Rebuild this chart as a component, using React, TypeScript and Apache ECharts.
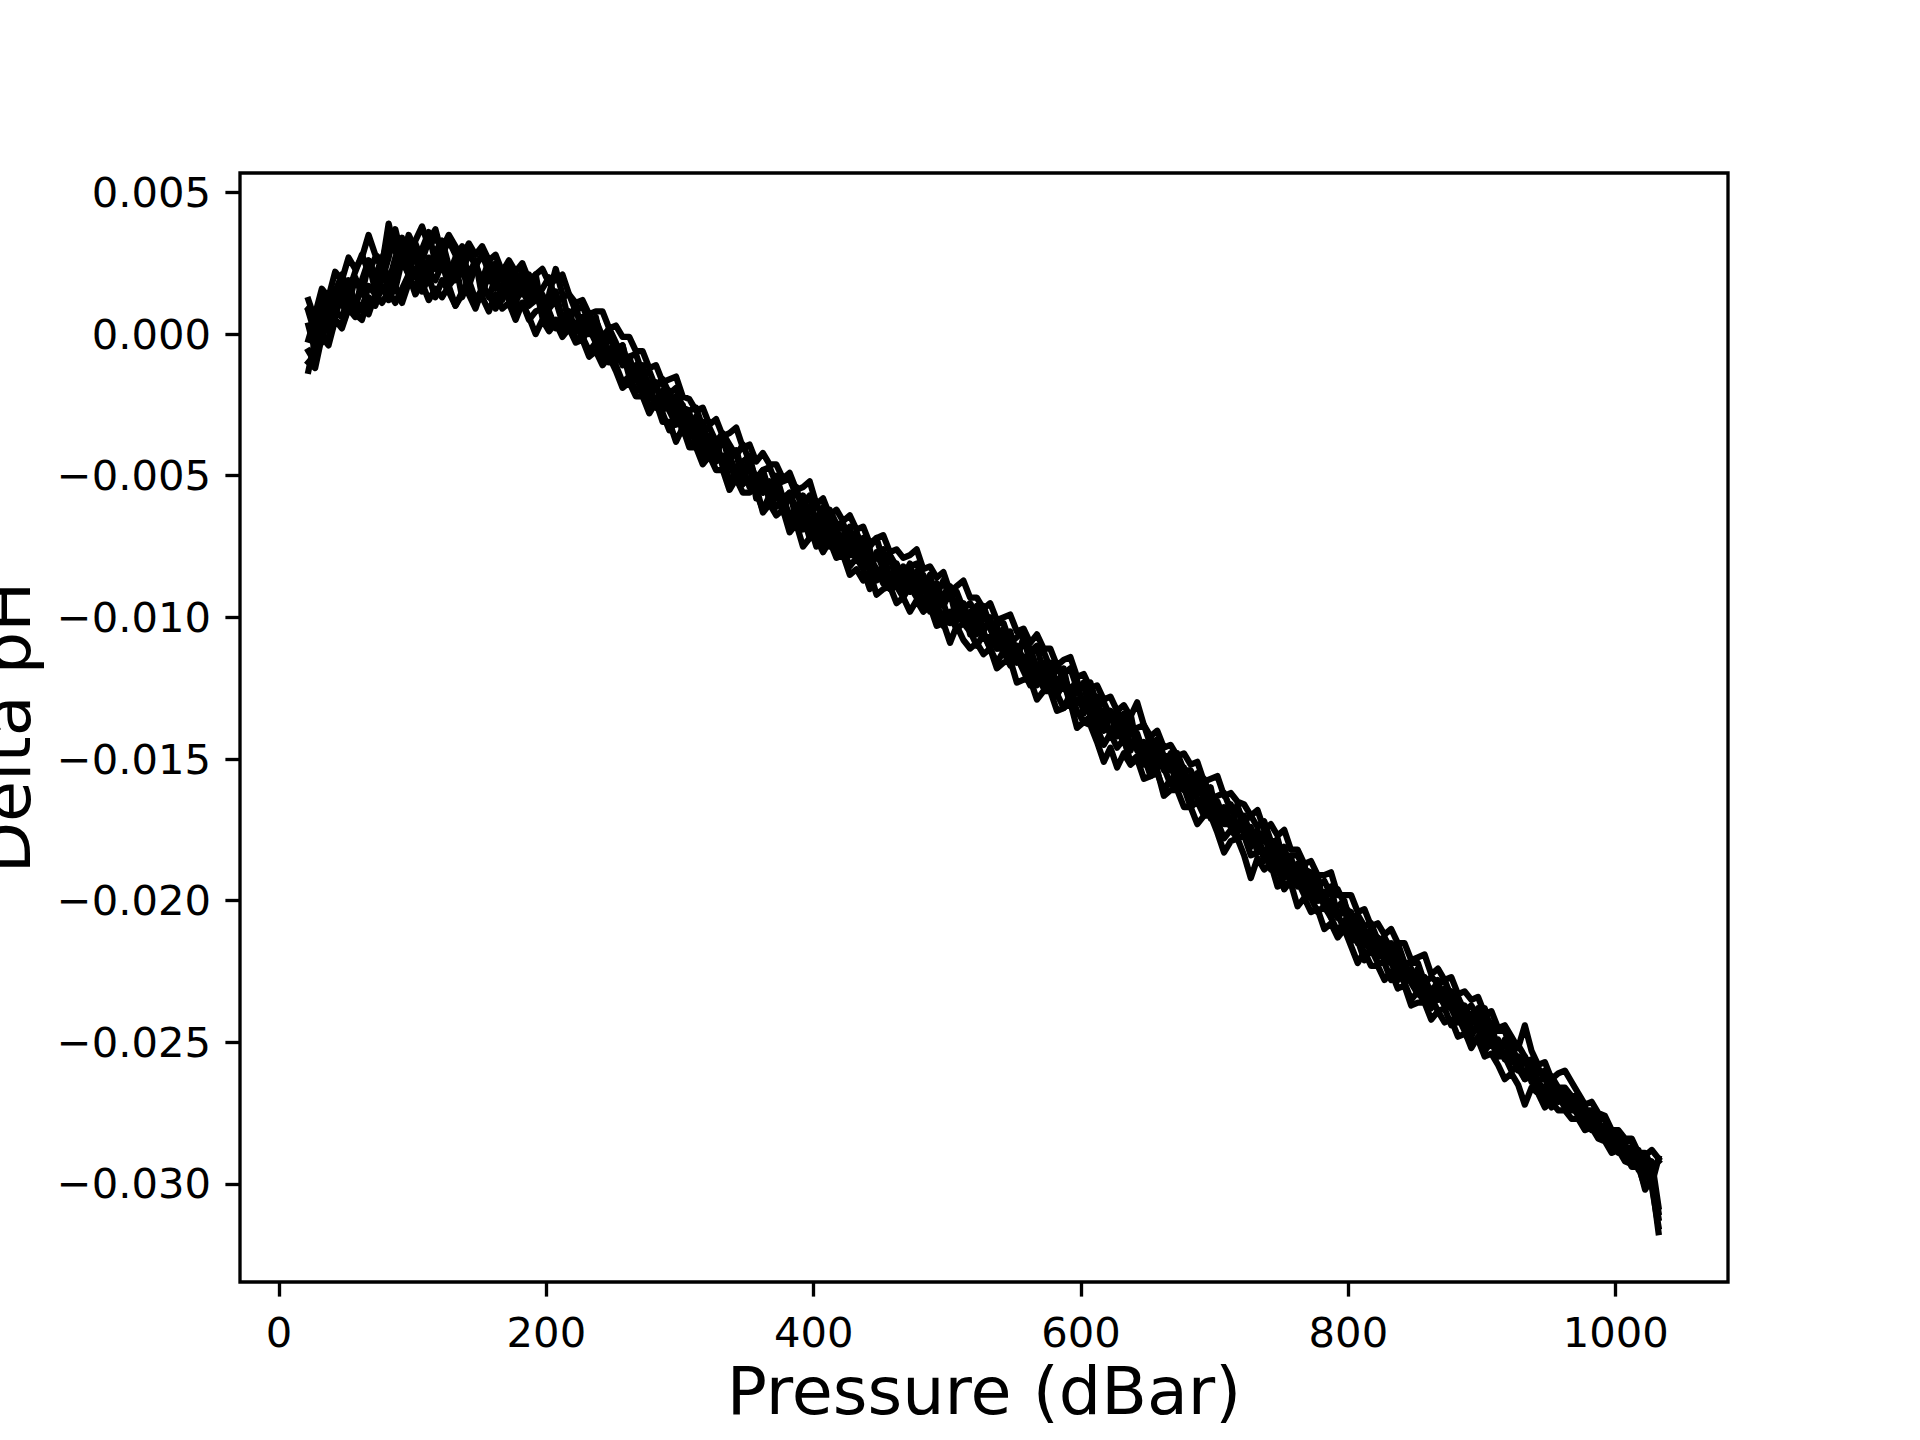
import React, { useEffect, useRef } from "react";
import * as echarts from "echarts";

// Pressure grid (dBar)
const pressure = [
  22, 27, 32, 37, 42, 47, 52, 57, 62, 67,
  72, 77, 82, 87, 92, 97, 102, 107, 112, 117,
  122, 127, 132, 137, 142, 147, 152, 157, 162, 167,
  172, 177, 182, 187, 192, 197, 202, 207, 212, 217,
  222, 227, 232, 237, 242, 247, 252, 257, 262, 267,
  272, 277, 282, 287, 292, 297, 302, 307, 312, 317,
  322, 327, 332, 337, 342, 347, 352, 357, 362, 367,
  372, 377, 382, 387, 392, 397, 402, 407, 412, 417,
  422, 427, 432, 437, 442, 447, 452, 457, 462, 467,
  472, 477, 482, 487, 492, 497, 502, 507, 512, 517,
  522, 527, 532, 537, 542, 547, 552, 557, 562, 567,
  572, 577, 582, 587, 592, 597, 602, 607, 612, 617,
  622, 627, 632, 637, 642, 647, 652, 657, 662, 667,
  672, 677, 682, 687, 692, 697, 702, 707, 712, 717,
  722, 727, 732, 737, 742, 747, 752, 757, 762, 767,
  772, 777, 782, 787, 792, 797, 802, 807, 812, 817,
  822, 827, 832, 837, 842, 847, 852, 857, 862, 867,
  872, 877, 882, 887, 892, 897, 902, 907, 912, 917,
  922, 927, 932, 937, 942, 947, 952, 957, 962, 967,
  972, 977, 982, 987, 992, 997, 1002, 1007, 1012, 1017,
  1022, 1027, 1032,
];

// Delta pH profiles
const profileA = [
  -13e-4, -2e-4, -3e-4, 8e-4, 6e-4, 15e-4, 10e-4, 20e-4, 14e-4, 25e-4,
  20e-4, 27e-4, 18e-4, 27e-4, 33e-4, 27e-4, 20e-4, 30e-4, 36e-4, 25e-4,
  31e-4, 21e-4, 27e-4, 31e-4, 17e-4, 24e-4, 19e-4, 26e-4, 21e-4, 12e-4,
  20e-4, 14e-4, 20e-4, 14e-4, 21e-4, 8e-4, 12e-4, 15e-4, 5e-4, 8e-4,
  1e-4, 6e-4, 0, 5e-4, -3e-4, -10e-4, -4e-4, -11e-4, -8e-4, -16e-4,
  -13e-4, -23e-4, -18e-4, -16e-4, -27e-4, -25e-4, -35e-4, -28e-4, -36e-4, -31e-4,
  -42e-4, -37e-4, -47e-4, -42e-4, -41e-4, -49e-4, -45e-4, -58e-4, -50e-4, -55e-4,
  -50e-4, -58e-4, -56e-4, -65e-4, -60e-4, -57e-4, -68e-4, -63e-4, -75e-4, -69e-4,
  -68e-4, -77e-4, -70e-4, -79e-4, -76e-4, -87e-4, -81e-4, -78e-4, -88e-4, -82e-4,
  -91e-4, -84e-4, -90e-4, -85e-4, -97e-4, -92e-4, -89e-4, -99e-4, -95e-4, -106e-4,
  -99e-4, -105e-4, -100e-4, -111e-4, -107e-4, -106e-4, -115e-4, -107e-4, -116e-4, -124e-4,
  -116e-4, -124e-4, -117e-4, -122e-4, -131e-4, -124e-4, -131e-4, -125e-4, -137e-4, -133e-4,
  -142e-4, -135e-4, -142e-4, -136e-4, -147e-4, -144e-4, -155e-4, -146e-4, -153e-4, -148e-4,
  -157e-4, -154e-4, -165e-4, -159e-4, -164e-4, -160e-4, -171e-4, -168e-4, -174e-4, -166e-4,
  -177e-4, -174e-4, -183e-4, -176e-4, -184e-4, -178e-4, -187e-4, -194e-4, -187e-4, -194e-4,
  -191e-4, -200e-4, -197e-4, -206e-4, -202e-4, -200e-4, -210e-4, -207e-4, -216e-4, -212e-4,
  -219e-4, -213e-4, -221e-4, -228e-4, -222e-4, -228e-4, -224e-4, -234e-4, -231e-4, -235e-4,
  -231e-4, -238e-4, -234e-4, -245e-4, -240e-4, -245e-4, -241e-4, -251e-4, -249e-4, -256e-4,
  -252e-4, -259e-4, -257e-4, -256e-4, -265e-4, -271e-4, -264e-4, -268e-4, -267e-4, -273e-4,
  -270e-4, -276e-4, -275e-4, -282e-4, -280e-4, -285e-4, -282e-4, -288e-4, -287e-4, -295e-4,
  -291e-4, -301e-4, -315e-4,
];
const profileB = [
  12e-4, 5e-4, 14e-4, 9e-4, 15e-4, 21e-4, 15e-4, 22e-4, 28e-4, 22e-4,
  27e-4, 24e-4, 39e-4, 29e-4, 26e-4, 35e-4, 30e-4, 26e-4, 33e-4, 37e-4,
  28e-4, 33e-4, 28e-4, 21e-4, 29e-4, 24e-4, 28e-4, 22e-4, 25e-4, 19e-4,
  23e-4, 18e-4, 22e-4, 17e-4, 12e-4, 16e-4, 20e-4, 11e-4, 13e-4, 14e-4,
  8e-4, 10e-4, 4e-4, 5e-4, -1e-4, 2e-4, -3e-4, -9e-4, -8e-4, -7e-4,
  -14e-4, -13e-4, -19e-4, -16e-4, -21e-4, -19e-4, -26e-4, -27e-4, -26e-4, -33e-4,
  -33e-4, -38e-4, -35e-4, -39e-4, -43e-4, -39e-4, -45e-4, -51e-4, -48e-4, -47e-4,
  -53e-4, -52e-4, -51e-4, -57e-4, -58e-4, -63e-4, -60e-4, -65e-4, -62e-4, -67e-4,
  -67e-4, -72e-4, -70e-4, -76e-4, -75e-4, -72e-4, -80e-4, -78e-4, -82e-4, -85e-4,
  -82e-4, -81e-4, -87e-4, -86e-4, -92e-4, -87e-4, -93e-4, -91e-4, -97e-4, -95e-4,
  -99e-4, -96e-4, -103e-4, -102e-4, -102e-4, -109e-4, -107e-4, -105e-4, -112e-4, -112e-4,
  -112e-4, -118e-4, -117e-4, -120e-4, -118e-4, -125e-4, -125e-4, -123e-4, -131e-4, -130e-4,
  -135e-4, -133e-4, -137e-4, -141e-4, -139e-4, -138e-4, -145e-4, -143e-4, -149e-4, -149e-4,
  -148e-4, -154e-4, -154e-4, -159e-4, -157e-4, -164e-4, -163e-4, -162e-4, -168e-4, -167e-4,
  -172e-4, -170e-4, -174e-4, -172e-4, -179e-4, -179e-4, -185e-4, -184e-4, -184e-4, -189e-4,
  -190e-4, -195e-4, -193e-4, -198e-4, -196e-4, -201e-4, -206e-4, -205e-4, -209e-4, -208e-4,
  -214e-4, -213e-4, -217e-4, -215e-4, -222e-4, -222e-4, -222e-4, -229e-4, -227e-4, -229e-4,
  -228e-4, -234e-4, -234e-4, -239e-4, -237e-4, -241e-4, -238e-4, -246e-4, -246e-4, -246e-4,
  -252e-4, -251e-4, -255e-4, -259e-4, -259e-4, -263e-4, -262e-4, -266e-4, -266e-4, -269e-4,
  -269e-4, -274e-4, -274e-4, -277e-4, -277e-4, -282e-4, -282e-4, -285e-4, -285e-4, -290e-4,
  -290e-4, -288e-4, -291e-4,
];
const profileC = [
  -6e-4, -10e-4, 0, -2e-4, 5e-4, 3e-4, 9e-4, 7e-4, 5e-4, 13e-4,
  10e-4, 17e-4, 12e-4, 17e-4, 11e-4, 18e-4, 22e-4, 15e-4, 20e-4, 13e-4,
  19e-4, 15e-4, 10e-4, 15e-4, 19e-4, 12e-4, 16e-4, 14e-4, 9e-4, 13e-4,
  15e-4, 9e-4, 11e-4, 5e-4, 8e-4, 9e-4, 3e-4, 5e-4, 2e-4, 4e-4,
  -2e-4, -1e-4, -6e-4, -3e-4, -8e-4, -6e-4, -11e-4, -17e-4, -15e-4, -20e-4,
  -20e-4, -26e-4, -23e-4, -28e-4, -34e-4, -31e-4, -30e-4, -39e-4, -38e-4, -44e-4,
  -41e-4, -45e-4, -43e-4, -52e-4, -50e-4, -53e-4, -51e-4, -56e-4, -62e-4, -57e-4,
  -61e-4, -59e-4, -67e-4, -64e-4, -69e-4, -67e-4, -75e-4, -72e-4, -71e-4, -77e-4,
  -76e-4, -82e-4, -79e-4, -83e-4, -90e-4, -85e-4, -84e-4, -90e-4, -89e-4, -93e-4,
  -89e-4, -93e-4, -97e-4, -93e-4, -98e-4, -103e-4, -100e-4, -104e-4, -102e-4, -105e-4,
  -110e-4, -106e-4, -111e-4, -116e-4, -112e-4, -117e-4, -114e-4, -119e-4, -124e-4, -120e-4,
  -125e-4, -123e-4, -127e-4, -132e-4, -127e-4, -133e-4, -137e-4, -135e-4, -139e-4, -145e-4,
  -141e-4, -146e-4, -143e-4, -151e-4, -149e-4, -149e-4, -156e-4, -155e-4, -161e-4, -157e-4,
  -161e-4, -160e-4, -167e-4, -165e-4, -170e-4, -167e-4, -172e-4, -178e-4, -175e-4, -178e-4,
  -177e-4, -184e-4, -183e-4, -182e-4, -189e-4, -188e-4, -196e-4, -193e-4, -193e-4, -198e-4,
  -199e-4, -204e-4, -202e-4, -206e-4, -211e-4, -207e-4, -214e-4, -214e-4, -221e-4, -217e-4,
  -222e-4, -222e-4, -228e-4, -225e-4, -229e-4, -235e-4, -232e-4, -236e-4, -234e-4, -239e-4,
  -238e-4, -244e-4, -241e-4, -246e-4, -252e-4, -248e-4, -253e-4, -250e-4, -255e-4, -255e-4,
  -260e-4, -259e-4, -263e-4, -262e-4, -267e-4, -268e-4, -273e-4, -269e-4, -273e-4, -272e-4,
  -276e-4, -280e-4, -279e-4, -283e-4, -282e-4, -286e-4, -289e-4, -289e-4, -294e-4, -294e-4,
  -301e-4, -299e-4, -317e-4,
];
const profileD = [
  8e-4, 0, 10e-4, 1e-4, 12e-4, 10e-4, 19e-4, 10e-4, 17e-4, 26e-4,
  15e-4, 24e-4, 15e-4, 23e-4, 31e-4, 22e-4, 29e-4, 16e-4, 27e-4, 23e-4,
  30e-4, 19e-4, 25e-4, 13e-4, 19e-4, 25e-4, 18e-4, 13e-4, 20e-4, 23e-4,
  16e-4, 11e-4, 17e-4, 11e-4, 17e-4, 6e-4, 9e-4, 12e-4, 4e-4, 7e-4,
  9e-4, 1e-4, 7e-4, -3e-4, 0, -9e-4, -5e-4, -4e-4, -14e-4, -11e-4,
  -20e-4, -17e-4, -26e-4, -20e-4, -20e-4, -29e-4, -25e-4, -34e-4, -29e-4, -41e-4,
  -36e-4, -42e-4, -37e-4, -45e-4, -52e-4, -45e-4, -43e-4, -53e-4, -50e-4, -59e-4,
  -52e-4, -61e-4, -58e-4, -54e-4, -64e-4, -72e-4, -64e-4, -70e-4, -65e-4, -75e-4,
  -71e-4, -68e-4, -79e-4, -75e-4, -84e-4, -77e-4, -83e-4, -89e-4, -81e-4, -86e-4,
  -81e-4, -90e-4, -87e-4, -98e-4, -90e-4, -96e-4, -91e-4, -101e-4, -98e-4, -103e-4,
  -96e-4, -105e-4, -111e-4, -103e-4, -111e-4, -105e-4, -113e-4, -118e-4, -111e-4, -118e-4,
  -124e-4, -117e-4, -124e-4, -118e-4, -129e-4, -126e-4, -123e-4, -135e-4, -132e-4, -140e-4,
  -134e-4, -141e-4, -134e-4, -146e-4, -143e-4, -152e-4, -146e-4, -144e-4, -154e-4, -151e-4,
  -160e-4, -153e-4, -161e-4, -155e-4, -166e-4, -164e-4, -174e-4, -167e-4, -172e-4, -176e-4,
  -170e-4, -177e-4, -175e-4, -186e-4, -180e-4, -187e-4, -181e-4, -190e-4, -195e-4, -189e-4,
  -197e-4, -191e-4, -203e-4, -200e-4, -206e-4, -202e-4, -214e-4, -208e-4, -213e-4, -210e-4,
  -220e-4, -217e-4, -222e-4, -217e-4, -229e-4, -224e-4, -231e-4, -227e-4, -238e-4, -231e-4,
  -236e-4, -232e-4, -241e-4, -238e-4, -248e-4, -243e-4, -248e-4, -243e-4, -254e-4, -249e-4,
  -257e-4, -255e-4, -263e-4, -258e-4, -264e-4, -262e-4, -271e-4, -267e-4, -271e-4, -270e-4,
  -275e-4, -273e-4, -280e-4, -278e-4, -282e-4, -281e-4, -288e-4, -286e-4, -291e-4, -288e-4,
  -298e-4, -292e-4, -308e-4,
];
const profileE = [
  -2e-4, 6e-4, 2e-4, 9e-4, 8e-4, 6e-4, 13e-4, 12e-4, 9e-4, 17e-4,
  14e-4, 22e-4, 20e-4, 16e-4, 26e-4, 21e-4, 15e-4, 25e-4, 22e-4, 19e-4,
  25e-4, 17e-4, 20e-4, 24e-4, 14e-4, 9e-4, 16e-4, 20e-4, 16e-4, 17e-4,
  12e-4, 14e-4, 16e-4, 10e-4, 12e-4, 14e-4, 8e-4, 2e-4, 7e-4, 2e-4,
  4e-4, -2e-4, 2e-4, -3e-4, -8e-4, -5e-4, -10e-4, -6e-4, -15e-4, -15e-4,
  -21e-4, -20e-4, -24e-4, -21e-4, -27e-4, -32e-4, -29e-4, -36e-4, -36e-4, -37e-4,
  -43e-4, -41e-4, -44e-4, -43e-4, -49e-4, -47e-4, -54e-4, -52e-4, -56e-4, -52e-4,
  -58e-4, -58e-4, -64e-4, -62e-4, -66e-4, -65e-4, -69e-4, -74e-4, -71e-4, -74e-4,
  -73e-4, -78e-4, -78e-4, -82e-4, -79e-4, -83e-4, -88e-4, -85e-4, -89e-4, -85e-4,
  -90e-4, -89e-4, -94e-4, -92e-4, -96e-4, -100e-4, -98e-4, -101e-4, -100e-4, -103e-4,
  -103e-4, -107e-4, -107e-4, -111e-4, -111e-4, -111e-4, -116e-4, -115e-4, -121e-4, -117e-4,
  -121e-4, -122e-4, -127e-4, -124e-4, -129e-4, -129e-4, -132e-4, -133e-4, -139e-4, -137e-4,
  -141e-4, -140e-4, -144e-4, -134e-4, -146e-4, -151e-4, -149e-4, -152e-4, -153e-4, -159e-4,
  -157e-4, -161e-4, -160e-4, -164e-4, -168e-4, -167e-4, -168e-4, -173e-4, -173e-4, -175e-4,
  -175e-4, -180e-4, -180e-4, -183e-4, -183e-4, -189e-4, -188e-4, -191e-4, -191e-4, -196e-4,
  -197e-4, -200e-4, -200e-4, -205e-4, -205e-4, -210e-4, -209e-4, -213e-4, -214e-4, -218e-4,
  -217e-4, -221e-4, -222e-4, -226e-4, -225e-4, -229e-4, -233e-4, -232e-4, -236e-4, -233e-4,
  -237e-4, -238e-4, -243e-4, -241e-4, -245e-4, -246e-4, -250e-4, -249e-4, -253e-4, -254e-4,
  -255e-4, -260e-4, -260e-4, -263e-4, -264e-4, -267e-4, -270e-4, -268e-4, -271e-4, -274e-4,
  -274e-4, -277e-4, -281e-4, -280e-4, -284e-4, -285e-4, -286e-4, -290e-4, -291e-4, -292e-4,
  -297e-4, -296e-4, -310e-4,
];
const profileF = [
  3e-4, -6e-4, 6e-4, 12e-4, 7e-4, 18e-4, 12e-4, 9e-4, 19e-4, 26e-4,
  21e-4, 19e-4, 27e-4, 37e-4, 27e-4, 21e-4, 32e-4, 26e-4, 18e-4, 29e-4,
  33e-4, 24e-4, 19e-4, 28e-4, 21e-4, 26e-4, 13e-4, 23e-4, 17e-4, 22e-4,
  14e-4, 21e-4, 14e-4, 21e-4, 15e-4, 8e-4, 14e-4, 23e-4, 14e-4, 4e-4,
  10e-4, 0, 4e-4, 6e-4, -6e-4, -1e-4, -6e-4, -4e-4, -13e-4, -12e-4,
  -11e-4, -20e-4, -17e-4, -27e-4, -23e-4, -22e-4, -31e-4, -30e-4, -40e-4, -33e-4,
  -38e-4, -43e-4, -36e-4, -44e-4, -42e-4, -52e-4, -46e-4, -52e-4, -48e-4, -56e-4,
  -54e-4, -63e-4, -56e-4, -62e-4, -57e-4, -67e-4, -67e-4, -61e-4, -73e-4, -68e-4,
  -77e-4, -71e-4, -77e-4, -72e-4, -82e-4, -78e-4, -76e-4, -87e-4, -84e-4, -90e-4,
  -84e-4, -91e-4, -85e-4, -93e-4, -88e-4, -95e-4, -102e-4, -94e-4, -102e-4, -98e-4,
  -106e-4, -98e-4, -104e-4, -109e-4, -104e-4, -116e-4, -110e-4, -115e-4, -112e-4, -110e-4,
  -120e-4, -116e-4, -128e-4, -121e-4, -126e-4, -122e-4, -134e-4, -129e-4, -128e-4, -138e-4,
  -133e-4, -142e-4, -139e-4, -147e-4, -141e-4, -148e-4, -142e-4, -153e-4, -149e-4, -154e-4,
  -150e-4, -160e-4, -156e-4, -162e-4, -159e-4, -171e-4, -165e-4, -171e-4, -166e-4, -175e-4,
  -172e-4, -181e-4, -177e-4, -176e-4, -185e-4, -182e-4, -192e-4, -185e-4, -191e-4, -187e-4,
  -199e-4, -195e-4, -200e-4, -195e-4, -206e-4, -203e-4, -204e-4, -215e-4, -210e-4, -216e-4,
  -213e-4, -220e-4, -215e-4, -226e-4, -222e-4, -227e-4, -233e-4, -227e-4, -233e-4, -228e-4,
  -237e-4, -234e-4, -242e-4, -237e-4, -243e-4, -238e-4, -248e-4, -247e-4, -255e-4, -250e-4,
  -250e-4, -258e-4, -255e-4, -264e-4, -261e-4, -260e-4, -268e-4, -271e-4, -268e-4, -273e-4,
  -271e-4, -276e-4, -276e-4, -281e-4, -279e-4, -284e-4, -282e-4, -289e-4, -288e-4, -292e-4,
  -292e-4, -300e-4, -291e-4,
];
const profileG = [
  -10e-4, -12e-4, -1e-4, -4e-4, 5e-4, 2e-4, 9e-4, 6e-4, 10e-4, 7e-4,
  14e-4, 11e-4, 15e-4, 11e-4, 16e-4, 21e-4, 14e-4, 18e-4, 12e-4, 16e-4,
  13e-4, 17e-4, 10e-4, 14e-4, 18e-4, 11e-4, 13e-4, 8e-4, 14e-4, 9e-4,
  11e-4, 5e-4, 11e-4, 6e-4, 0, 5e-4, 1e-4, 4e-4, -1e-4, 2e-4,
  -3e-4, -2e-4, -8e-4, -6e-4, -11e-4, -8e-4, -13e-4, -19e-4, -17e-4, -22e-4,
  -22e-4, -28e-4, -24e-4, -31e-4, -31e-4, -38e-4, -33e-4, -40e-4, -40e-4, -46e-4,
  -43e-4, -48e-4, -48e-4, -55e-4, -51e-4, -56e-4, -56e-4, -54e-4, -63e-4, -60e-4,
  -64e-4, -62e-4, -70e-4, -67e-4, -75e-4, -72e-4, -72e-4, -77e-4, -73e-4, -79e-4,
  -78e-4, -85e-4, -83e-4, -87e-4, -84e-4, -92e-4, -90e-4, -89e-4, -95e-4, -93e-4,
  -98e-4, -94e-4, -98e-4, -96e-4, -103e-4, -102e-4, -109e-4, -103e-4, -108e-4, -111e-4,
  -109e-4, -113e-4, -111e-4, -118e-4, -116e-4, -115e-4, -123e-4, -122e-4, -122e-4, -129e-4,
  -126e-4, -126e-4, -133e-4, -132e-4, -130e-4, -139e-4, -137e-4, -138e-4, -144e-4, -151e-4,
  -146e-4, -153e-4, -148e-4, -152e-4, -150e-4, -157e-4, -156e-4, -154e-4, -163e-4, -161e-4,
  -161e-4, -167e-4, -167e-4, -173e-4, -170e-4, -170e-4, -176e-4, -183e-4, -179e-4, -178e-4,
  -184e-4, -192e-4, -185e-4, -189e-4, -187e-4, -195e-4, -194e-4, -194e-4, -202e-4, -199e-4,
  -204e-4, -203e-4, -210e-4, -208e-4, -213e-4, -210e-4, -216e-4, -222e-4, -218e-4, -223e-4,
  -223e-4, -228e-4, -225e-4, -231e-4, -230e-4, -237e-4, -236e-4, -236e-4, -242e-4, -239e-4,
  -243e-4, -242e-4, -248e-4, -247e-4, -250e-4, -249e-4, -255e-4, -254e-4, -258e-4, -263e-4,
  -261e-4, -265e-4, -272e-4, -266e-4, -268e-4, -273e-4, -271e-4, -274e-4, -274e-4, -277e-4,
  -277e-4, -281e-4, -280e-4, -284e-4, -285e-4, -289e-4, -288e-4, -292e-4, -293e-4, -293e-4,
  -302e-4, -298e-4, -312e-4,
];
const profileH = [
  9e-4, 7e-4, 16e-4, 13e-4, 22e-4, 19e-4, 27e-4, 23e-4, 27e-4, 35e-4,
  28e-4, 26e-4, 34e-4, 30e-4, 34e-4, 29e-4, 33e-4, 38e-4, 31e-4, 34e-4,
  30e-4, 35e-4, 31e-4, 27e-4, 32e-4, 28e-4, 31e-4, 26e-4, 28e-4, 22e-4,
  26e-4, 22e-4, 25e-4, 19e-4, 21e-4, 23e-4, 18e-4, 19e-4, 21e-4, 14e-4,
  11e-4, 12e-4, 7e-4, 8e-4, 8e-4, 2e-4, 3e-4, -1e-4, -1e-4, -6e-4,
  -6e-4, -12e-4, -11e-4, -17e-4, -16e-4, -15e-4, -22e-4, -23e-4, -27e-4, -26e-4,
  -32e-4, -30e-4, -36e-4, -35e-4, -33e-4, -40e-4, -39e-4, -45e-4, -42e-4, -46e-4,
  -46e-4, -51e-4, -49e-4, -55e-4, -54e-4, -52e-4, -60e-4, -58e-4, -64e-4, -62e-4,
  -66e-4, -64e-4, -69e-4, -68e-4, -74e-4, -72e-4, -71e-4, -77e-4, -76e-4, -79e-4,
  -78e-4, -76e-4, -83e-4, -82e-4, -86e-4, -84e-4, -91e-4, -89e-4, -87e-4, -93e-4,
  -93e-4, -97e-4, -95e-4, -101e-4, -100e-4, -99e-4, -105e-4, -104e-4, -109e-4, -106e-4,
  -111e-4, -111e-4, -117e-4, -115e-4, -114e-4, -121e-4, -120e-4, -125e-4, -124e-4, -129e-4,
  -128e-4, -133e-4, -131e-4, -135e-4, -130e-4, -138e-4, -142e-4, -140e-4, -146e-4, -145e-4,
  -149e-4, -148e-4, -152e-4, -151e-4, -158e-4, -157e-4, -156e-4, -163e-4, -162e-4, -165e-4,
  -166e-4, -170e-4, -168e-4, -175e-4, -173e-4, -177e-4, -175e-4, -182e-4, -182e-4, -187e-4,
  -186e-4, -191e-4, -191e-4, -190e-4, -198e-4, -198e-4, -198e-4, -204e-4, -203e-4, -209e-4,
  -208e-4, -212e-4, -210e-4, -215e-4, -215e-4, -221e-4, -220e-4, -219e-4, -226e-4, -224e-4,
  -228e-4, -227e-4, -233e-4, -232e-4, -235e-4, -234e-4, -240e-4, -239e-4, -245e-4, -244e-4,
  -248e-4, -252e-4, -244e-4, -253e-4, -258e-4, -257e-4, -263e-4, -261e-4, -260e-4, -264e-4,
  -268e-4, -272e-4, -271e-4, -275e-4, -276e-4, -281e-4, -281e-4, -284e-4, -284e-4, -289e-4,
  -289e-4, -294e-4, -292e-4,
];

const profiles = [
  profileA, profileB, profileC, profileD,
  profileE, profileF, profileG, profileH,
];

const xTicks = [0, 200, 400, 600, 800, 1000];
const yTicks = [-0.03, -0.025, -0.02, -0.015, -0.01, -0.005, 0, 0.005];

const FONT = "DejaVu Sans";

export default function App() {
  const ref = useRef<HTMLDivElement>(null);

  useEffect(() => {
    document.body.style.margin = "0";
    const chart = echarts.init(ref.current as HTMLDivElement, null, { renderer: "svg" });
    chart.setOption({
      animation: false,
      backgroundColor: "#ffffff",
      grid: {
        left: 240,
        right: 192,
        top: 173,
        bottom: 158,
        show: true,
        borderColor: "#000000",
        borderWidth: 3.33,
        backgroundColor: "transparent",
        containLabel: false,
        outerBoundsMode: "none",
      },
      xAxis: {
        type: "value",
        min: -29.2,
        max: 1084,
        axisLine: { show: false, onZero: false },
        splitLine: { show: false },
        axisTick: {
          show: true,
          inside: false,
          length: 14.6,
          customValues: xTicks,
          lineStyle: { color: "#000000", width: 3.33 },
        },
        axisLabel: {
          customValues: xTicks,
          margin: 29,
          fontSize: 41.7,
          color: "#000000",
          fontFamily: FONT,
          formatter: (v: number) => String(v),
        },
        name: "Pressure (dBar)",
        nameLocation: "middle",
        nameGap: 74,
        nameTextStyle: { fontSize: 66.7, color: "#000000", fontFamily: FONT },
      },
      yAxis: {
        type: "value",
        min: -0.03346,
        max: 0.005685,
        axisLine: { show: false, onZero: false },
        splitLine: { show: false },
        axisTick: {
          show: true,
          inside: false,
          length: 14.6,
          customValues: yTicks,
          lineStyle: { color: "#000000", width: 3.33 },
        },
        axisLabel: {
          customValues: yTicks,
          margin: 29,
          fontSize: 41.7,
          color: "#000000",
          fontFamily: FONT,
          formatter: (v: number) =>
            (v < -1e-9 ? "\u2212" : "") + Math.abs(v).toFixed(3),
        },
        name: "Delta pH",
        nameLocation: "middle",
        nameRotate: 90,
        nameGap: 200,
        nameTextStyle: { fontSize: 66.7, color: "#000000", fontFamily: FONT },
      },
      series: profiles.map((r, k) => ({
        name: "profile" + (k + 1),
        type: "line",
        data: pressure.map((p, i) => [p, r[i]]),
        showSymbol: false,
        symbol: "none",
        silent: true,
        lineStyle: { color: "#000000", width: 6.25, join: "round", cap: "square" },
      })),
    });
    return () => {
      chart.dispose();
    };
  }, []);

  return <div ref={ref} style={{ width: 1920, height: 1440 }} />;
}
